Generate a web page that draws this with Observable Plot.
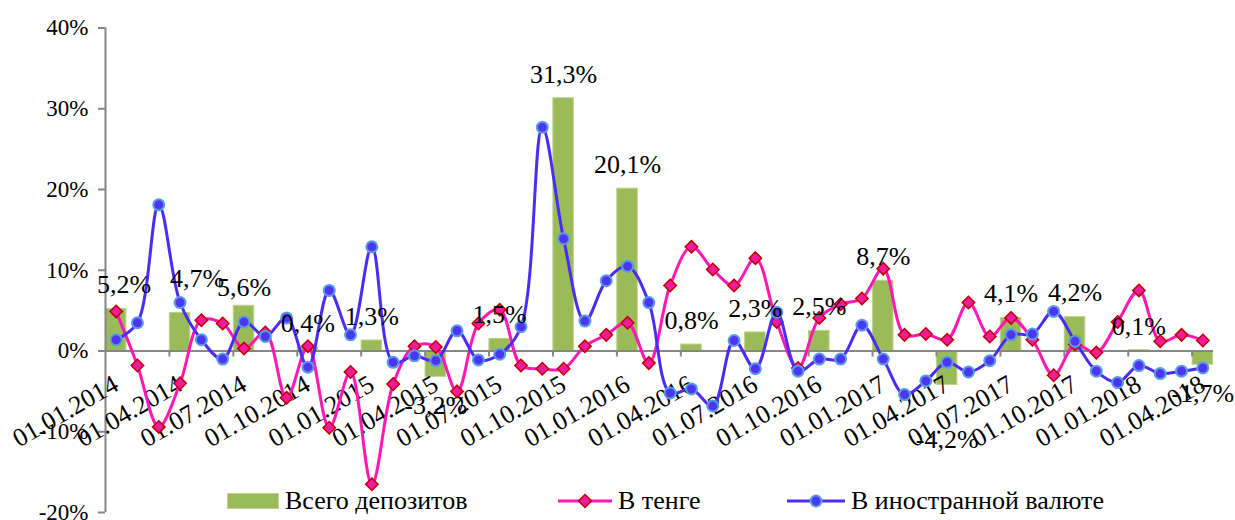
<!DOCTYPE html>
<html>
<head>
<meta charset="utf-8">
<script src="https://cdn.jsdelivr.net/npm/d3@7"></script>
<script src="https://cdn.jsdelivr.net/npm/@observablehq/plot@0.6"></script>
<style>
  body { margin: 0; background: #fff; }
  #chart { position: relative; width: 1235px; height: 520px; font-family: "Liberation Serif", "Times New Roman", "DejaVu Serif", serif; color: #000; }
  #chart svg.main { position: absolute; left: 0; top: 0; }
  #chart g[aria-label^="y-axis"] line, #chart g[aria-label^="y-axis"] path { stroke: #868686 !important; stroke-width: 2px; }
  #chart g[aria-label^="y-axis"] text { font-size: 23px; }
  .leg { position: absolute; top: 486px; height: 30px; line-height: 30px; display: flex; align-items: center; white-space: nowrap; font-size: 26px; }
  .leg .sw { display: inline-block; }
</style>
</head>
<body>
<div id="chart"></div>
<script>
// Category axis (monthly)
const dates = [
  "01.01.2014","01.02.2014","01.03.2014","01.04.2014","01.05.2014","01.06.2014",
  "01.07.2014","01.08.2014","01.09.2014","01.10.2014","01.11.2014","01.12.2014",
  "01.01.2015","01.02.2015","01.03.2015","01.04.2015","01.05.2015","01.06.2015",
  "01.07.2015","01.08.2015","01.09.2015","01.10.2015","01.11.2015","01.12.2015",
  "01.01.2016","01.02.2016","01.03.2016","01.04.2016","01.05.2016","01.06.2016",
  "01.07.2016","01.08.2016","01.09.2016","01.10.2016","01.11.2016","01.12.2016",
  "01.01.2017","01.02.2017","01.03.2017","01.04.2017","01.05.2017","01.06.2017",
  "01.07.2017","01.08.2017","01.09.2017","01.10.2017","01.11.2017","01.12.2017",
  "01.01.2018","01.02.2018","01.03.2018","01.04.2018"
];
// В тенге (%)
const tenge = [
  4.9, -1.8, -9.4, -4.0, 3.8, 3.4, 0.3, 2.3, -5.8, 0.6, -9.5, -2.6,
  -16.5, -4.1, 0.6, 0.5, -5.0, 3.4, 5.1, -1.8, -2.2, -2.2, 0.6, 2.0,
  3.5, -1.5, 8.1, 12.9, 10.1, 8.1, 11.5, 3.6, -2.1, 4.1, 5.8, 6.5,
  10.2, 2.0, 2.1, 1.4, 6.0, 1.8, 4.1, 1.4, -3.0, 0.8, -0.2, 3.6,
  7.5, 1.2, 2.0, 1.3
];
// В иностранной валюте (%)
const foreign = [
  1.4, 3.5, 18.1, 6.0, 1.4, -1.0, 3.6, 1.8, 4.1, -2.0, 7.5, 2.0,
  12.9, -1.4, -0.6, -1.2, 2.5, -1.1, -0.4, 3.0, 27.7, 13.9, 3.7, 8.7,
  10.5, 6.0, -5.2, -4.7, -6.8, 1.3, -2.2, 4.8, -2.5, -1.0, -1.0, 3.2,
  -1.0, -5.4, -3.7, -1.4, -2.6, -1.2, 2.0, 2.1, 4.9, 1.2, -2.5, -3.9,
  -1.8, -2.8, -2.5, -2.1
];
// Всего депозитов (%), quarterly
const quarterDates = [
  "01.01.2014","01.04.2014","01.07.2014","01.10.2014","01.01.2015","01.04.2015",
  "01.07.2015","01.10.2015","01.01.2016","01.04.2016","01.07.2016","01.10.2016",
  "01.01.2017","01.04.2017","01.07.2017","01.10.2017","01.01.2018","01.04.2018"
];
const total = [5.2, 4.7, 5.6, 0.4, 1.3, -3.2, 1.5, 31.3, 20.1, 0.8, 2.3, 2.5, 8.7, -4.2, 4.1, 4.2, 0.1, -1.7];
const yTicks = [-20, -10, 0, 10, 20, 30, 40];

// manual label nudges (px), as in the original
const labelNudge = { "01.01.2014": [8, 0], "01.04.2014": [17, -10], "01.07.2014": [0, 6], "01.04.2017": [0, 26] };

const rows = dates.map((d, i) => ({date: d, idx: i, tenge: tenge[i], foreign: foreign[i]}));
const bars = quarterDates.map((d, k) => ({date: d, idx: dates.indexOf(d), value: total[k]}));
const fmt = v => v.toFixed(1).replace(".", ",") + "%";

const axisGray = "#868686";
const pinkLine = "#ff19b4";
const blueLine = "#4b2cf5";
const FS = 26;
const serif = '"Liberation Serif", "Times New Roman", "DejaVu Serif", serif';

const labelMarks = bars.map(b => {
  const [ndx, ndy] = labelNudge[b.date] || [0, 0];
  return Plot.text([b], {
    x: "idx", y: "value", text: d => fmt(d.value),
    lineAnchor: "middle", fill: "#000", fontSize: FS, fontFamily: serif,
    dx: ndx, dy: (b.value >= 0 ? -24 : 29) + ndy
  });
});

const plot = Plot.plot({
  width: 1235,
  height: 520,
  marginTop: 27.5,
  marginBottom: 8,
  marginLeft: 105,
  marginRight: 22,
  style: {fontFamily: serif, fontSize: FS + "px", color: "#000", background: "transparent", overflow: "visible"},
  x: {type: "linear", domain: [-0.5, dates.length - 0.5], axis: null},
  y: {domain: [-20, 40], ticks: yTicks, tickFormat: d => `${d}%`, tickSize: 7, tickPadding: 10, label: null},
  marks: [
    Plot.rectY(bars, {x1: d => d.idx - 0.5, x2: d => d.idx + 0.5, y1: () => 0, y2: "value",
      fill: "#9bbb59", stroke: "#bcd38e", strokeWidth: 1, insetLeft: 0.4, insetRight: 0.4}),
    Plot.ruleY([0], {stroke: axisGray, strokeWidth: 2}),
    Plot.ruleX([-0.5], {stroke: axisGray, strokeWidth: 2}),
    Plot.ruleX(bars.slice(1), {x: d => d.idx - 0.5, y1: () => 0, y2: () => 0, insetBottom: -6, stroke: axisGray, strokeWidth: 2}),
    Plot.text(bars, {x: "idx", y: () => 0, text: "date", rotate: -30, textAnchor: "end", lineAnchor: "middle",
      dx: 0, dy: 31, fontSize: FS, fontFamily: serif, fill: "#000"}),
    Plot.line(rows, {x: "idx", y: "tenge", curve: "catmull-rom", stroke: pinkLine, strokeWidth: 3}),
    Plot.dot(rows, {x: "idx", y: "tenge", symbol: "diamond2", r: 5.6, fill: "#ef1a9c", stroke: "#c00000", strokeWidth: 1.5}),
    Plot.line(rows, {x: "idx", y: "foreign", curve: "catmull-rom", stroke: blueLine, strokeWidth: 3}),
    Plot.dot(rows, {x: "idx", y: "foreign", r: 5.5, fill: "#4d36f2", stroke: "#5a9be2", strokeWidth: 2}),
    ...labelMarks
  ]
});
plot.classList.add("main");
const chart = document.getElementById("chart");
chart.append(plot);

// Legend (overlaid like the original)
const legendItems = [
  {left: 227, label: "Всего депозитов", sw: `<svg class="sw" width="52" height="16"><rect x="0.5" y="0.5" width="51" height="15" fill="#9bbb59" stroke="#bcd38e"/></svg>`},
  {left: 558, label: "В тенге", sw: `<svg class="sw" width="54" height="20"><line x1="0" x2="54" y1="10" y2="10" stroke="${pinkLine}" stroke-width="3"/><path d="M27,3.5L33.5,10L27,16.5L20.5,10Z" fill="#ef1a9c" stroke="#c00000" stroke-width="1.5"/></svg>`},
  {left: 787, label: "В иностранной валюте", sw: `<svg class="sw" width="58" height="20"><line x1="0" x2="58" y1="10" y2="10" stroke="${blueLine}" stroke-width="3"/><circle cx="29" cy="10" r="5.5" fill="#4d36f2" stroke="#5a9be2" stroke-width="2"/></svg>`}
];
for (const it of legendItems) {
  const div = document.createElement("div");
  div.className = "leg";
  div.style.left = it.left + "px";
  div.innerHTML = it.sw + `<span style="margin-left:6px">${it.label}</span>`;
  chart.append(div);
}
</script>
</body>
</html>
